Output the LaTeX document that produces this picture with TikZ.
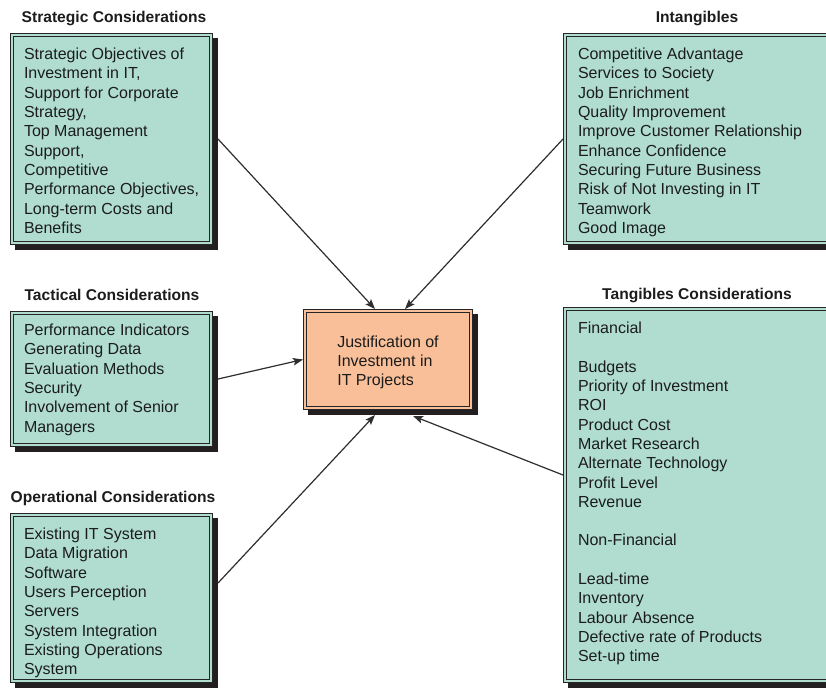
\documentclass[tikz,border=0pt]{standalone}
\usepackage{fontspec}
\setmainfont{Liberation Sans}
\usetikzlibrary{arrows.meta}
\definecolor{boxgreen}{HTML}{B0DDD0}
\definecolor{boxpeach}{HTML}{F9BF99}
\definecolor{edgec}{HTML}{262626}
\definecolor{shadec}{HTML}{231F20}
\definecolor{linec}{HTML}{2E2E2E}
\definecolor{textc}{HTML}{1C1C1C}
\begin{document}
\begin{tikzpicture}[x=1pt,y=-1pt,
  every node/.style={inner sep=0pt,outer sep=0pt},
  panel/.style={rectangle,draw=edgec,line width=0.9pt,double=boxgreen,double distance=2.5pt,fill=boxgreen,anchor=north west},
  cpanel/.style={rectangle,draw=edgec,line width=0.9pt,double=boxpeach,double distance=2.5pt,fill=boxpeach,anchor=north west,align=left,text=textc,font=\fontsize{16}{19}\selectfont},
  shadowbox/.style={fill=shadec},
  ttl/.style={font=\fontsize{15.6}{18}\selectfont\bfseries,text=textc},
  body/.style={anchor=north west,align=left,text=textc,font=\fontsize{16}{19.3}\selectfont},
  conn/.style={draw=linec,line width=1.2pt,-{Stealth[length=10pt,width=7.5pt,inset=2pt]}}]
\clip (0,0) rectangle (826,689);
\fill[white] (0,0) rectangle (826,689);

% shadows
\fill[shadowbox] (15,38) rectangle (218,250);
\fill[shadowbox] (15,316) rectangle (218,452);
\fill[shadowbox] (15,518) rectangle (218,688);
\fill[shadowbox] (568,38) rectangle (845,250);
\fill[shadowbox] (568,312) rectangle (845,688);
\fill[shadowbox] (308,314) rectangle (478,415);

% panels
\node[panel,minimum width=199pt,minimum height=208pt] (strat) at (12,35) {};
\node[panel,minimum width=199pt,minimum height=132pt] (tact) at (12,313) {};
\node[panel,minimum width=199pt,minimum height=166pt] (oper) at (12,515) {};
\node[panel,minimum width=273pt,minimum height=208pt] (intang) at (565,35) {};
\node[panel,minimum width=273pt,minimum height=372pt] (tang) at (565,309) {};
\node[cpanel,minimum width=166pt,minimum height=97pt] (cen) at (305,311) {\rule{0pt}{17.6pt}Justification of\\Investment in\\IT Projects};

% titles
\node[ttl] (tstrat) at (114,18) {Strategic Considerations};
\node[ttl] (ttact) at (112,295) {Tactical Considerations};
\node[ttl] (toper) at (113,498) {Operational Considerations};
\node[ttl] (tintang) at (697,18) {Intangibles};
\node[ttl] (ttang) at (697,295) {Tangibles Considerations};

% texts
\node[body] (xstrat) at (24,48) {Strategic Objectives of\\Investment in IT,\\Support for Corporate\\Strategy,\\Top Management\\Support,\\Competitive\\Performance Objectives,\\Long-term Costs and\\Benefits};
\node[body] (xtact) at (24,324) {Performance Indicators\\Generating Data\\Evaluation Methods\\Security\\Involvement of Senior\\Managers};
\node[body] (xoper) at (24,528) {Existing IT System\\Data Migration\\Software\\Users Perception\\Servers\\System Integration\\Existing Operations\\System};
\node[body] (xintang) at (578,48) {Competitive Advantage\\Services to Society\\Job Enrichment\\Quality Improvement\\Improve Customer Relationship\\Enhance Confidence\\Securing Future Business\\Risk of Not Investing in IT\\Teamwork\\Good Image};
\node[body] (xtang) at (578,322) {Financial\\[19.3pt]Budgets\\Priority of Investment\\ROI\\Product Cost\\Market Research\\Alternate Technology\\Profit Level\\Revenue\\[19.3pt]Non-Financial\\[19.3pt]Lead-time\\Inventory\\Labour Absence\\Defective rate of Products\\Set-up time};

% connectors
\draw[conn] ([xshift=7pt]strat.east) -- ([xshift=-13pt,yshift=2pt]cen.north);
\draw[conn] ([xshift=-2pt]intang.west) -- ([xshift=17pt,yshift=2pt]cen.north);
\draw[conn] ([xshift=7pt]tact.east) -- ([xshift=-2pt]cen.west);
\draw[conn] ([xshift=7pt,yshift=15pt]oper.east) -- ([xshift=-13pt,yshift=-7pt]cen.south);
\draw[conn] ([xshift=-2pt,yshift=20pt]tang.west) -- ([xshift=25pt,yshift=-8pt]cen.south);
\end{tikzpicture}
\end{document}
